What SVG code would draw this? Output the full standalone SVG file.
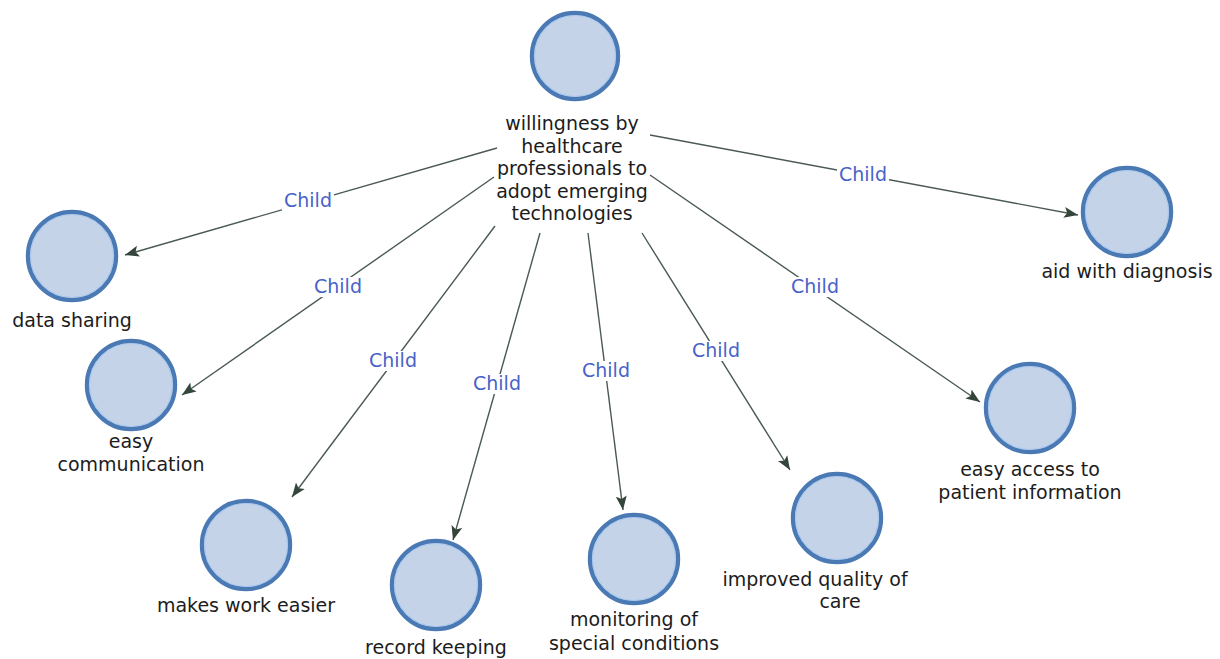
<svg xmlns="http://www.w3.org/2000/svg" width="1220" height="659" viewBox="0 0 1220 659">
<style>
.node circle.o{fill:#c4d3e8;stroke:#4a79b3;stroke-width:4.4}
.node circle.i{fill:none;stroke:#a9c9f0;stroke-width:1.2}
.node text{font-family:"DejaVu Sans",sans-serif;font-size:19px;fill:#1c1c1c;text-anchor:middle}
.edge line{stroke:#4a5a52;stroke-width:1.4;marker-end:url(#arr)}
.lbl rect{fill:#fff}
.lbl text{font-family:"DejaVu Sans",sans-serif;font-size:19px;fill:#4862c8;text-anchor:middle}
</style>
<defs>
<marker id="arr" markerUnits="userSpaceOnUse" markerWidth="16" markerHeight="12" refX="14" refY="6" orient="auto">
<path d="M0,0.5 L14,6 L0,11.5 L3,6 z" fill="#34463c"/>
</marker>
</defs>
<rect width="1220" height="659" fill="#fff"/>
<g id="connectors">
<g class="edge">
<line x1="497" y1="148" x2="125" y2="255"/>
<line x1="494" y1="177" x2="182" y2="395"/>
<line x1="495" y1="226" x2="292" y2="497"/>
<line x1="540" y1="233" x2="453" y2="540"/>
<line x1="588" y1="233" x2="623" y2="510"/>
<line x1="642" y1="233" x2="790" y2="470"/>
<line x1="650" y1="175" x2="980" y2="402"/>
<line x1="650" y1="135" x2="1078" y2="215"/>
</g>
<g class="lbl">
<rect x="282" y="191" width="52" height="20"/><text x="308" y="207">Child</text>
<rect x="312" y="277" width="52" height="20"/><text x="338" y="293">Child</text>
<rect x="367" y="351" width="52" height="20"/><text x="393" y="367">Child</text>
<rect x="471" y="374" width="52" height="20"/><text x="497" y="390">Child</text>
<rect x="580" y="361" width="52" height="20"/><text x="606" y="377">Child</text>
<rect x="690" y="341" width="52" height="20"/><text x="716" y="357">Child</text>
<rect x="789" y="277" width="52" height="20"/><text x="815" y="293">Child</text>
<rect x="837" y="165" width="52" height="20"/><text x="863" y="181">Child</text>
</g>
</g>
<g id="n-root" class="node">
<circle class="o" cx="575" cy="56" r="43"/><circle class="i" cx="575" cy="56" r="40.5"/>
<text x="572" y="130">willingness by</text>
<text x="572" y="153">healthcare</text>
<text x="572" y="175">professionals to</text>
<text x="572" y="198">adopt emerging</text>
<text x="572" y="220">technologies</text>
</g>
<g id="n-data" class="node">
<circle class="o" cx="72" cy="256" r="44"/><circle class="i" cx="72" cy="256" r="41.5"/>
<text x="72" y="327">data sharing</text>
</g>
<g id="n-comm" class="node">
<circle class="o" cx="131" cy="385" r="44"/><circle class="i" cx="131" cy="385" r="41.5"/>
<text x="131" y="448">easy</text>
<text x="131" y="471">communication</text>
</g>
<g id="n-work" class="node">
<circle class="o" cx="246" cy="545" r="44"/><circle class="i" cx="246" cy="545" r="41.5"/>
<text x="246" y="612">makes work easier</text>
</g>
<g id="n-record" class="node">
<circle class="o" cx="436" cy="585" r="44"/><circle class="i" cx="436" cy="585" r="41.5"/>
<text x="436" y="654">record keeping</text>
</g>
<g id="n-monitor" class="node">
<circle class="o" cx="634" cy="559" r="44"/><circle class="i" cx="634" cy="559" r="41.5"/>
<text x="634" y="626">monitoring of</text>
<text x="634" y="650">special conditions</text>
</g>
<g id="n-quality" class="node">
<circle class="o" cx="837" cy="518" r="44"/><circle class="i" cx="837" cy="518" r="41.5"/>
<text x="815" y="586">improved quality of</text>
<text x="840" y="608">care</text>
</g>
<g id="n-access" class="node">
<circle class="o" cx="1030" cy="408" r="44"/><circle class="i" cx="1030" cy="408" r="41.5"/>
<text x="1030" y="476">easy access to</text>
<text x="1030" y="499">patient information</text>
</g>
<g id="n-diag" class="node">
<circle class="o" cx="1127" cy="212" r="44"/><circle class="i" cx="1127" cy="212" r="41.5"/>
<text x="1127" y="278">aid with diagnosis</text>
</g>
</svg>
